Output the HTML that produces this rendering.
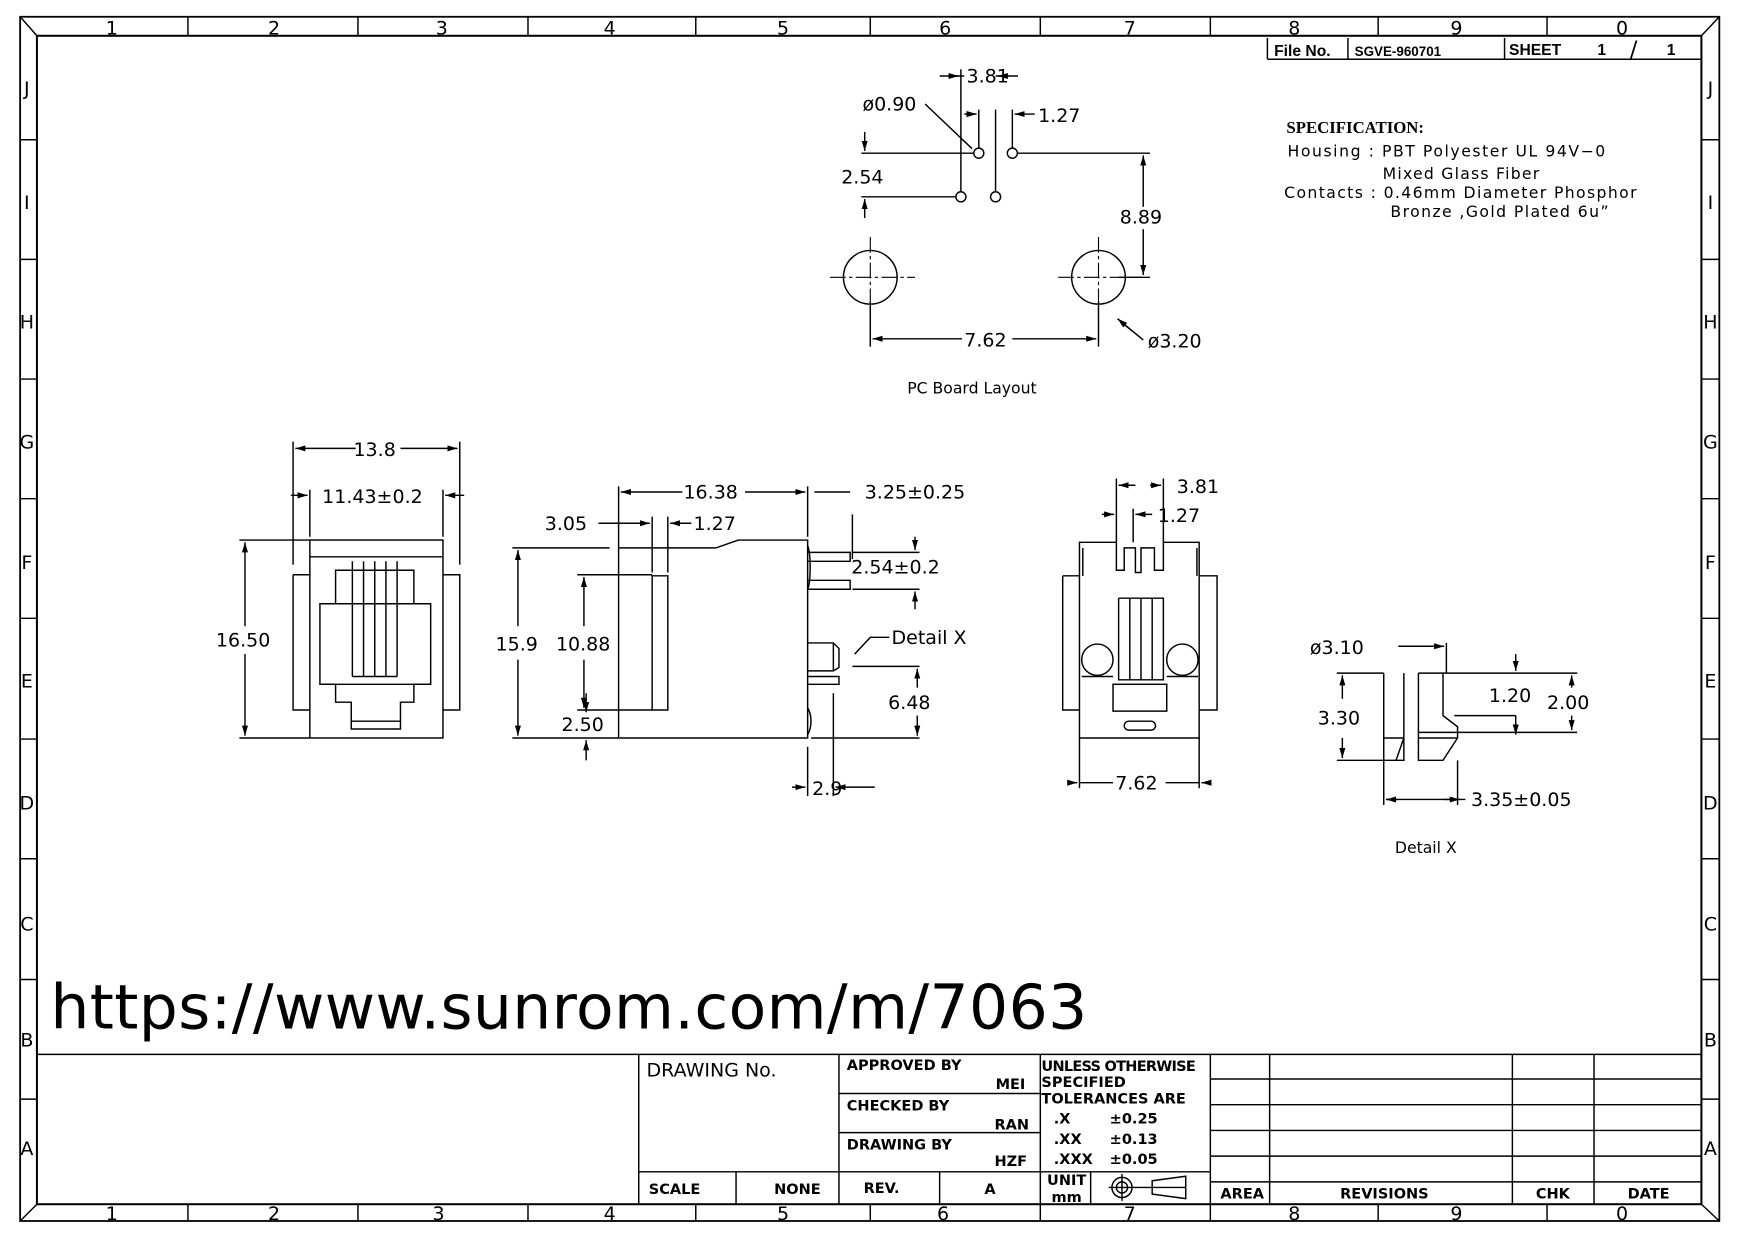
<!DOCTYPE html>
<html><head><meta charset="utf-8"><style>
html,body{margin:0;padding:0;background:#fff}
svg{display:block}
text{font-family:"DejaVu Sans","Liberation Sans",sans-serif;fill:#000}
.t{font-size:17px}
.s{font-size:14px}
.b{font-family:"Liberation Sans",sans-serif;font-weight:bold;font-size:14px}
</style></head><body>
<svg width="1754" height="1240" viewBox="0 0 1568 1109" preserveAspectRatio="none" xmlns="http://www.w3.org/2000/svg">
<defs>
<marker id="a" viewBox="0 0 10 10" refX="10" refY="5" markerWidth="9" markerHeight="9" orient="auto-start-reverse" markerUnits="userSpaceOnUse"><path d="M0,2L10,5L0,8z" fill="#000"/></marker>
</defs>
<g stroke="#000" fill="none" stroke-width="1.3">
<rect x="18" y="15" width="1519" height="1077" stroke-width="1.6"/>
<rect x="33" y="32" width="1488" height="1045" stroke-width="1.8"/>
<path d="M18,15L33,32M1537,15L1521,32M18,1092L33,1077M1537,1092L1521,1077"/>
<path d="M168,15V32M320,15V32M472,15V32M622,15V32M778,15V32M930,15V32M1082,15V32M1232,15V32M1383,15V32"/>
<path d="M168,1077V1092M320,1077V1092M472,1077V1092M622,1077V1092M778,1077V1092M930,1077V1092M1082,1077V1092M1232,1077V1092M1383,1077V1092"/>
<path d="M18,125H33M18,232H33M18,339H33M18,446H33M18,553H33M18,661H33M18,768H33M18,876H33M18,983H33"/>
<path d="M1521,125H1537M1521,232H1537M1521,339H1537M1521,446H1537M1521,553H1537M1521,661H1537M1521,768H1537M1521,876H1537M1521,983H1537"/>
<path d="M1133,53V34M1133,53H1521M1205,34V53M1345,34V53"/>
<path d="M33,943H1521M571,943V1077M750,943V1077M930,943V1077M1082,943V1077M571,1048H1082M750,978H930M750,1013H930M658,1048V1077M840,1048V1077M975,1048V1077"/>
<path d="M1082,965H1521M1082,988H1521M1082,1011H1521M1082,1034H1521M1082,1057H1521M1135,943V1077M1352,943V1077M1425,943V1077"/>
<circle cx="1003" cy="1062" r="9"/><circle cx="1003" cy="1062" r="5"/><path d="M991,1062H1060M1003,1050V1074M1030,1056L1060,1052V1072L1030,1068z"/>

<circle cx="875" cy="137" r="4.5"/><circle cx="905" cy="137" r="4.5"/><circle cx="859" cy="176" r="4.5"/><circle cx="890" cy="176" r="4.5"/>
<circle cx="778" cy="248" r="24"/><circle cx="982" cy="248" r="24"/>
<path d="M742,248H818M778,212V284M946,248H1022M982,212V284" stroke-dasharray="14,3,3,3" stroke-width="1"/>
<path d="M859,171V62M890,171V98M875,132V98M905,132V98"/>
<path d="M840,68H859M890,68H910M862,68H852" />
<path d="M848,68H857" marker-end="url(#a)"/><path d="M902,68H892" marker-end="url(#a)"/>
<path d="M862,102H873" marker-end="url(#a)"/><path d="M925,102H907" marker-end="url(#a)"/>
<path d="M770,137H870M770,176H854"/>
<path d="M773,118V135" marker-end="url(#a)"/><path d="M773,195V178" marker-end="url(#a)"/>
<path d="M909,137H1028M1000,248H1028"/>
<path d="M1022,185V139" marker-end="url(#a)"/><path d="M1022,205V246" marker-end="url(#a)"/>
<path d="M827,93L869,133"/>
<path d="M778,270V310M982,270V310"/>
<path d="M860,303H780" marker-end="url(#a)"/><path d="M905,303H980" marker-end="url(#a)"/>
<path d="M1022,304L1005,290" /><path d="M1012,296L999,285" marker-end="url(#a)"/>

<rect x="277" y="483" width="119" height="177"/>
<path d="M277,498H396"/>
<path d="M262,514H277M262,514V635H277M396,514H411V635H396"/>
<path d="M300,510H370V540H385V612H370V628H358V652H314V628H300V612H286V540H300z"/>
<path d="M314,645H358"/>
<path d="M300,540H370M286,612H385"/>
<path d="M315,502V605M325,502V605M335,502V605M345,502V605M355,502V605M315,605H355"/>
<path d="M262,395V505M411,395V505M277,438V480M396,438V480"/>
<path d="M318,401H264" marker-end="url(#a)"/><path d="M358,401H409" marker-end="url(#a)"/>
<path d="M260,443H275" marker-end="url(#a)"/><path d="M415,443H398" marker-end="url(#a)"/>
<path d="M214,483H277M214,660H277"/>
<path d="M219,560V485" marker-end="url(#a)"/><path d="M219,585V658" marker-end="url(#a)"/>

<path d="M553,660V490H640L660,483H722V660z"/>
<path d="M583,515H597V635H583z"/>
<path d="M722,488C725,495 725,520 722,527"/>
<path d="M722,494H760V502H722M722,519H760V527H722"/>
<path d="M722,575H745L750,580V597L745,600H722M722,605H750V612H722"/>
<path d="M745,575V600"/>
<path d="M722,633C726,640 726,650 722,657"/>
<path d="M553,435V490M722,435V480M762,460V500M583,462V512M597,462V512"/>
<path d="M610,440H555" marker-end="url(#a)"/><path d="M666,440H720" marker-end="url(#a)"/>
<path d="M728,440H760"/>
<path d="M535,468H581" marker-end="url(#a)"/><path d="M618,468H599" marker-end="url(#a)"/>
<path d="M458,490H545M458,660H553M516,514H583M516,635H583M762,494H822M762,527H822M762,596H822M725,660H822"/>
<path d="M818,480V492" marker-end="url(#a)"/><path d="M818,545V529" marker-end="url(#a)"/>
<path d="M463,560V492" marker-end="url(#a)"/><path d="M463,590V658" marker-end="url(#a)"/>
<path d="M522,560V516" marker-end="url(#a)"/><path d="M522,590V633" marker-end="url(#a)"/>
<path d="M524,620V637" marker-end="url(#a)"/><path d="M524,680V662" marker-end="url(#a)"/>
<path d="M820,615V598" marker-end="url(#a)"/><path d="M820,640V658" marker-end="url(#a)"/>
<path d="M722,668V712M745,620V712"/>
<path d="M708,704H720" marker-end="url(#a)"/><path d="M782,704H747" marker-end="url(#a)"/>
<path d="M795,570H778L764,585"/>

<path d="M965,660V485H998V510H1005V490H1015V512H1020V490H1032V510H1040V485H1072V660z"/>
<path d="M950,515H965M950,515V635H965M1072,515H1088V635H1072"/>
<path d="M968,490V515M1070,490V515"/>
<path d="M1000,535V608H1040V535H1000M1010,535V608M1020,535V608M1030,535V608"/>
<circle cx="981" cy="590" r="14"/><circle cx="1057" cy="590" r="14"/>
<path d="M967,605H995M1043,605H1071"/>
<rect x="995" y="612" width="48" height="24"/>
<rect x="1005" y="645" width="28" height="8" rx="4"/>
<path d="M998,428V485M1040,428V485M1013,455V485M965,660V705M1072,660V705"/>
<path d="M1015,434H1000" marker-end="url(#a)"/><path d="M1028,434H1038" marker-end="url(#a)"/>
<path d="M985,460H996" marker-end="url(#a)"/><path d="M1030,460H1015" marker-end="url(#a)"/>
<path d="M958,700H963" marker-end="url(#a)"/><path d="M1078,700H1074" marker-end="url(#a)"/>
<path d="M965,700H995M1042,700H1072"/>

<path d="M1237,602V680H1255V602M1255,660L1248,680M1237,660H1255"/>
<path d="M1268,602V680H1290L1303,660V650L1290,640V602H1268M1268,655H1300M1268,660H1303"/>
<path d="M1293,575V602M1237,680V720M1303,680V720M1195,602H1237M1195,680H1237"/>
<path d="M1250,578H1291" marker-end="url(#a)"/>
<path d="M1200,625V604" marker-end="url(#a)"/><path d="M1200,660V678" marker-end="url(#a)"/>
<path d="M1300,640H1355M1300,655H1410M1290,602H1410"/>
<path d="M1355,585V600" marker-end="url(#a)"/><path d="M1355,640V657" marker-end="url(#a)"/>
<path d="M1405,615V604" marker-end="url(#a)"/><path d="M1405,640V653" marker-end="url(#a)"/>
<path d="M1250,715H1239" marker-end="url(#a)"/><path d="M1290,715H1305" marker-end="url(#a)"/>
<path d="M1239,715H1310"/>
</g>

<g class="t" text-anchor="middle">
<text x="100" y="31">1</text><text x="245" y="31">2</text><text x="395" y="31">3</text><text x="545" y="31">4</text><text x="700" y="31">5</text><text x="845" y="31">6</text><text x="1010" y="31">7</text><text x="1157" y="31">8</text><text x="1302" y="31">9</text><text x="1450" y="31">0</text>
<text x="100" y="1091">1</text><text x="245" y="1091">2</text><text x="392" y="1091">3</text><text x="545" y="1091">4</text><text x="700" y="1091">5</text><text x="843" y="1091">6</text><text x="1010" y="1091">7</text><text x="1157" y="1091">8</text><text x="1302" y="1091">9</text><text x="1450" y="1091">0</text>
<text x="24" y="85">J</text><text x="24" y="187">I</text><text x="24" y="294">H</text><text x="24" y="401">G</text><text x="24" y="509">F</text><text x="24" y="615">E</text><text x="24" y="724">D</text><text x="24" y="832">C</text><text x="24" y="936">B</text><text x="24" y="1033">A</text>
<text x="1529" y="85">J</text><text x="1529" y="187">I</text><text x="1529" y="294">H</text><text x="1529" y="401">G</text><text x="1529" y="509">F</text><text x="1529" y="615">E</text><text x="1529" y="724">D</text><text x="1529" y="832">C</text><text x="1529" y="936">B</text><text x="1529" y="1033">A</text>
</g>

<text class="b" x="1139" y="50">File No.</text><text x="1211" y="50" style="font-family:'Liberation Sans';font-weight:bold;font-size:12px">SGVE-960701</text>
<text class="b" x="1349" y="49">SHEET</text><text class="b" x="1428" y="49">1</text><text x="1457" y="51" style="font-size:20px">/</text><text class="b" x="1490" y="49">1</text>

<text x="1150" y="119" style="font-family:'Liberation Serif',serif;font-weight:bold;font-size:15px">SPECIFICATION:</text>
<g class="s">
<text x="1151" y="140" textLength="284">Housing : PBT Polyester UL 94V−0</text>
<text x="1236" y="160" textLength="140">Mixed Glass Fiber</text>
<text x="1148" y="177" textLength="315">Contacts : 0.46mm Diameter Phosphor</text>
<text x="1243" y="194" textLength="195">Bronze ,Gold Plated 6u”</text>
</g>

<g class="t">
<text x="864" y="74">3.81</text>
<text x="771" y="99">ø0.90</text>
<text x="928" y="109">1.27</text>
<text x="752" y="164">2.54</text>
<text x="1001" y="200">8.89</text>
<text x="862" y="310">7.62</text>
<text x="1026" y="311">ø3.20</text>
<text x="316" y="408">13.8</text>
<text x="288" y="450">11.43±0.2</text>
<text x="193" y="578">16.50</text>
<text x="611" y="446">16.38</text>
<text x="773" y="446">3.25±0.25</text>
<text x="487" y="474">3.05</text>
<text x="620" y="474">1.27</text>
<text x="761" y="513">2.54±0.2</text>
<text x="797" y="576">Detail X</text>
<text x="443" y="582">15.9</text>
<text x="497" y="582">10.88</text>
<text x="794" y="634">6.48</text>
<text x="502" y="654">2.50</text>
<text x="726" y="711">2.9</text>
<text x="1052" y="441">3.81</text>
<text x="1035" y="467">1.27</text>
<text x="997" y="706">7.62</text>
<text x="1171" y="585">ø3.10</text>
<text x="1331" y="628">1.20</text>
<text x="1383" y="634">2.00</text>
<text x="1178" y="648">3.30</text>
<text x="1315" y="721">3.35±0.05</text>
</g>
<g class="s">
<text x="811" y="352">PC Board Layout</text>
<text x="1247" y="763">Detail X</text>
</g>

<text x="45" y="920" textLength="927" style="font-size:55px;font-family:'DejaVu Sans',sans-serif">https://www.sunrom.com/m/7063</text>

<g style="font-family:'Liberation Sans',sans-serif;font-weight:bold;font-size:13px">
<text x="578" y="963" style="font-size:17px;font-weight:normal">DRAWING No.</text>
<text x="757" y="957">APPROVED BY</text><text x="890" y="974">MEI</text>
<text x="757" y="993">CHECKED BY</text><text x="889" y="1010">RAN</text>
<text x="757" y="1028">DRAWING BY</text><text x="889" y="1043">HZF</text>
<text x="931" y="958" textLength="138">UNLESS OTHERWISE</text><text x="931" y="972">SPECIFIED</text><text x="931" y="987">TOLERANCES ARE</text>
<text x="942" y="1005">.X</text><text x="992" y="1005">±0.25</text>
<text x="942" y="1023">.XX</text><text x="992" y="1023">±0.13</text>
<text x="942" y="1041">.XXX</text><text x="992" y="1041">±0.05</text>
<text x="580" y="1068">SCALE</text><text x="692" y="1068">NONE</text>
<text x="772" y="1067">REV.</text><text x="880" y="1068">A</text>
<text x="936" y="1060">UNIT</text><text x="940" y="1075">mm</text>
<text x="1091" y="1072">AREA</text><text x="1198" y="1072">REVISIONS</text><text x="1373" y="1072">CHK</text><text x="1455" y="1072">DATE</text>
</g>
</svg>
</body></html>
